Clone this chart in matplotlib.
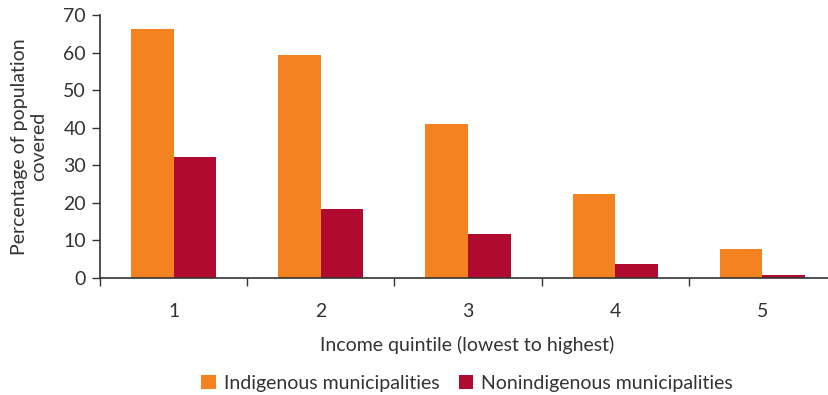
import matplotlib
matplotlib.use("Agg")
import matplotlib.pyplot as plt
import numpy as np

categories = ["1", "2", "3", "4", "5"]
indigenous = [66.2, 59.3, 41.0, 22.4, 7.8]
nonindigenous = [32.2, 18.4, 11.8, 3.8, 0.9]
yticks = [0, 10, 20, 30, 40, 50, 60, 70]

plt.rcParams['font.family'] = ['Lato', 'DejaVu Sans']
W, H = 829, 395
fig = plt.figure(figsize=(W/100, H/100), dpi=100)
left, right, top, bottom = 100, 836, 15, 278
ax = fig.add_axes([left/W, 1 - bottom/H, (right-left)/W, (bottom-top)/H])

x = np.arange(len(categories))
w = 0.29
c1 = "#F58220"
c2 = "#B00A30"
ax.bar(x - w/2, indigenous, w, color=c1, label="Indigenous municipalities")
ax.bar(x + w/2, nonindigenous, w, color=c2, label="Nonindigenous municipalities")

ax.set_xlim(-0.5, 4.5)
ax.set_ylim(0, 70)
ax.set_yticks(yticks)
axcol = "#333333"
for s in ["top", "right"]:
    ax.spines[s].set_visible(False)
for s in ["left", "bottom"]:
    ax.spines[s].set_color(axcol)
    ax.spines[s].set_linewidth(1.2)

ax.set_xticks(np.arange(-0.5, 5, 1))
ax.set_xticklabels([])
ax.set_xticks(x, minor=True)
ax.set_xticklabels(categories, minor=True)
ax.tick_params(axis="x", which="major", length=6, color=axcol, width=1)
ax.tick_params(axis="x", which="minor", length=0, pad=18, labelsize=14, labelcolor="#333333")
ax.tick_params(axis="y", length=6, color=axcol, width=1, labelsize=14, labelcolor="#333333", pad=4)

ax.set_ylabel("Percentage of population\ncovered", fontsize=14, color="#333333", labelpad=12, linespacing=1.15)
fig.text(467/W, 1 - 345/H, "Income quintile (lowest to highest)", ha="center", va="center", fontsize=14, color="#333333")

handles, labels = ax.get_legend_handles_labels()
fig.legend(handles, labels, loc="center", bbox_to_anchor=(467/W, 1 - 383/H), ncol=2, frameon=False,
           fontsize=14, handlelength=0.75, handleheight=0.75, handletextpad=0.4, columnspacing=1.0,
           labelcolor="#333333")

fig.savefig("out.png", dpi=100)
